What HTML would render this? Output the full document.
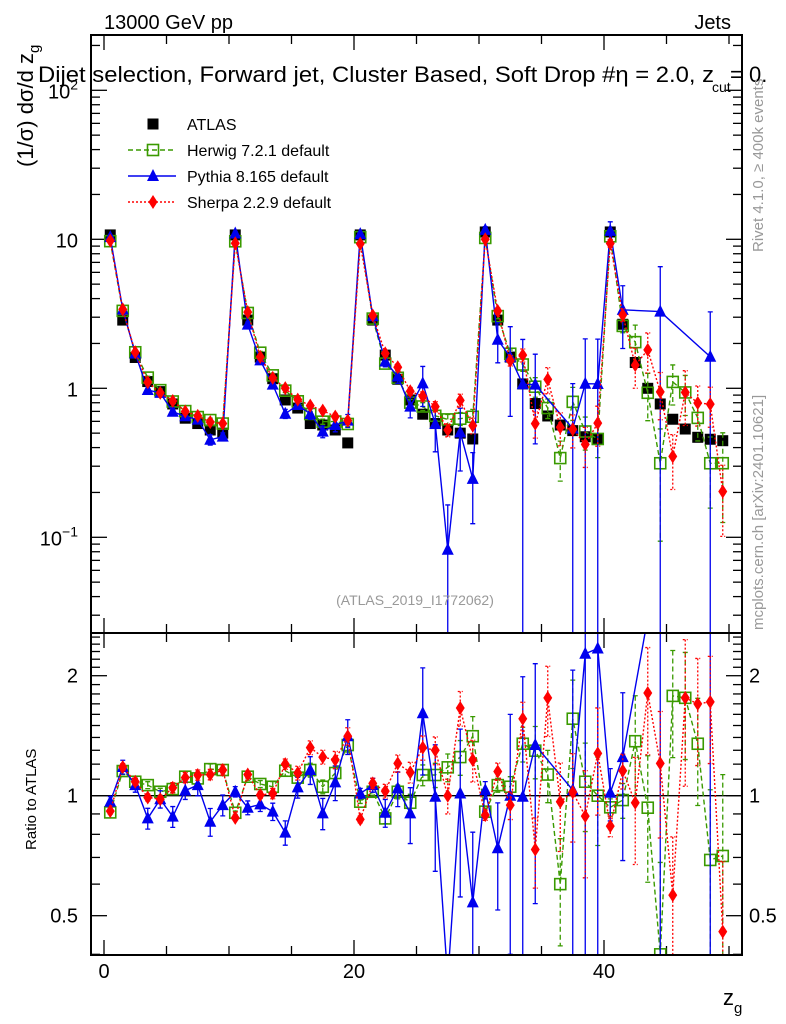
<!DOCTYPE html>
<html><head><meta charset="utf-8"><style>
html,body{margin:0;padding:0;background:#fff;width:786px;height:1024px;overflow:hidden;}
svg{display:block;font-family:"Liberation Sans",sans-serif;overflow:hidden;}
</style></head><body>
<svg id="chart" width="786" height="1024" viewBox="0 0 786 1024" xmlns="http://www.w3.org/2000/svg">
<defs>
<clipPath id="clipTop"><rect x="91" y="35" width="651" height="598"/></clipPath>
<clipPath id="clipBot"><rect x="91" y="633" width="651" height="322"/></clipPath>
</defs>
<g id="axes"></g>
<g id="marks-top" clip-path="url(#clipTop)"></g>
<g id="marks-bot" clip-path="url(#clipBot)"></g>
<rect x="91" y="35" width="651" height="598" fill="none" stroke="#000" stroke-width="2"/>
<rect x="91" y="633" width="651" height="322" fill="none" stroke="#000" stroke-width="2"/>
<text x="104" y="29" font-size="20">13000 GeV pp</text>
<text x="731" y="29" font-size="20" text-anchor="end">Jets</text>
<text x="38" y="82" font-size="22" textLength="676" lengthAdjust="spacingAndGlyphs">Dijet selection, Forward jet, Cluster Based, Soft Drop #η = 2.0, z</text>
<text x="712" y="92" font-size="14">cut</text>
<text x="730" y="82" font-size="22">= 0.</text>
<text transform="translate(33,167) rotate(-90)" font-size="22">(1/σ) dσ/d z<tspan font-size="15" dy="6">g</tspan></text>
<text transform="translate(36,850) rotate(-90)" font-size="15">Ratio to ATLAS</text>
<text x="723" y="1005" font-size="22">z<tspan font-size="15" dy="8">g</tspan></text>
<text x="415" y="605" font-size="14" fill="#999" text-anchor="middle">(ATLAS_2019_I1772062)</text>
<text transform="translate(763,252) rotate(-90)" font-size="15" fill="#999">Rivet 4.1.0, ≥ 400k events</text>
<text transform="translate(763,630) rotate(-90)" font-size="15" fill="#999">mcplots.cern.ch [arXiv:2401.10621]</text>
<g id="legend"></g>
</svg>
<script>
const atlasVals = [10.7,2.87,1.61,1.11,0.95,0.785,0.63,0.58,0.525,0.50,
10.7,2.87,1.62,1.16,0.835,0.737,0.58,0.567,0.525,0.43,
10.7,2.87,1.67,1.15,0.835,0.67,0.58,0.525,0.50,0.457,
11.2,2.87,1.62,1.07,0.79,0.652,0.567,0.52,0.473,0.457,
11.2,2.69,1.49,1.0,0.785,0.62,0.533,0.469,0.455,0.445];
const herwigRatio = [0.908,1.153,1.084,1.063,1.023,1.039,1.116,1.105,1.166,1.16,
0.906,1.116,1.07,1.053,1.155,1.11,1.16,1.053,1.14,1.34,
0.966,1.023,0.877,1.023,0.96,1.127,1.127,1.178,1.25,1.41,
0.912,1.063,1.053,1.35,1.297,1.13,0.60,1.56,1.084,1.0,
0.935,0.975,1.37,0.933,0.40,1.78,1.76,1.35,0.69,0.706];
const sherpaRatio = [0.915,1.18,1.084,0.99,0.98,1.047,1.11,1.127,1.13,1.16,
0.88,1.13,1.004,1.013,1.2,1.14,1.32,1.25,1.23,1.41,
0.872,1.074,1.027,1.205,1.144,1.32,1.30,1.0,1.66,1.23,
0.894,1.15,0.947,1.56,0.733,1.76,0.966,1.02,0.889,1.277,
0.839,1.155,0.96,1.81,1.205,0.563,1.76,1.70,1.72,0.456];
const pythiaRatio = [0.966,1.18,1.063,0.877,0.98,0.886,1.03,1.063,0.86,0.947,
1.023,0.933,0.951,0.912,0.808,1.049,1.16,0.903,1.08,1.41,
1.013,1.063,0.906,1.043,0.903,1.61,0.994,0.157,1.013,0.54,
1.033,0.738,1.0,0.994,1.34,null,null,1.033,2.27,2.34,
1.017,1.25,null,null,4.17,null,null,null,3.58,null];
const herwigErr = [0.01,0.02,0.02,0.02,0.02,0.02,0.03,0.03,0.03,0.03,
0.01,0.02,0.02,0.03,0.03,0.03,0.04,0.04,0.04,0.04,
0.01,0.02,0.03,0.04,0.05,0.06,0.07,0.08,0.1,0.12,
0.02,0.04,0.06,0.1,0.15,0.15,0.3,0.25,0.25,0.25,
0.05,0.1,0.3,0.35,0.7,0.3,0.3,0.3,0.5,0.6];
const sherpaErr = [0.01,0.02,0.02,0.02,0.02,0.03,0.03,0.03,0.03,0.03,
0.01,0.02,0.02,0.03,0.03,0.04,0.04,0.04,0.05,0.05,
0.02,0.03,0.04,0.05,0.06,0.07,0.08,0.1,0.1,0.12,
0.03,0.05,0.08,0.1,0.2,0.2,0.25,0.25,0.3,0.3,
0.06,0.1,0.3,0.3,0.35,0.4,0.4,0.3,0.3,0.5];
const pythiaErr = [0.03,0.04,0.04,0.06,0.05,0.06,0.05,0.06,0.08,0.06,
0.03,0.04,0.04,0.05,0.07,0.06,0.08,0.09,0.1,0.1,
0.03,0.04,0.08,0.1,0.16,0.3,0.35,1.0,0.45,0.5,
0.05,0.3,0.6,1.0,0.6,0,0,1.0,1.0,1.0,
0.15,0.45,0,0,1.0,0,0,0,1.0,0];
const xTickLabels = ["0","20","40"];
const yTopTickLabels = ["10⁻¹","1","10","10²"];
const yRatioTickLabels = ["0.5","1","2"];

const NS = "http://www.w3.org/2000/svg";
function xs(v){ return 104 + 12.5*v; }
function yTop(v){ return 388.3 - 149*Math.log10(v); }
function yRat(r){ return 795.7 - 398.6*Math.log10(r); }
function mk(tag, attrs, parent){ const e=document.createElementNS(NS,tag); for(const k in attrs) e.setAttribute(k,attrs[k]); parent.appendChild(e); return e; }

const axes = document.getElementById('axes');
for(let v=0; v<=50; v+=5){
  const major = v%20===0;
  const L = major?15:9;
  const x = xs(v);
  [[35,1],[633,-1],[633,1],[955,-1]].forEach(([y0,d])=>{
    const t = mk('line',{x1:x,x2:x,y1:y0,y2:y0+d*L,stroke:'#000','stroke-width':1.3},axes);
    
    
  });
}
xTickLabels.forEach((lab,i)=>{
  const t = mk('text',{x:xs(i*20),y:978,'font-size':20,'text-anchor':'middle'},axes);
  t.textContent = lab;
  
  
});
for(let e=-2;e<=2;e++){
  for(let m=1;m<=9;m++){
    const v = m*Math.pow(10,e);
    const y = yTop(v);
    if(y<35||y>633) continue;
    const L = m===1?16:9;
    [[91,1],[742,-1]].forEach(([x0,d])=>{
      const t = mk('line',{x1:x0,x2:x0+d*L,y1:y,y2:y,stroke:'#000','stroke-width':1.3},axes);
      
      
    });
  }
}
yTopTickLabels.forEach((lab,i)=>{
  const v = Math.pow(10,i-1);
  const t = mk('text',{x:78,y:yTop(v)+8,'font-size':20,'text-anchor':'end'},axes);
  if(i===0){ t.innerHTML = '10<tspan font-size="14" dy="-9">−1</tspan>'; }
  else if(i===3){ t.innerHTML = '10<tspan font-size="14" dy="-9">2</tspan>'; }
  else t.textContent = lab;
  
  
});
for(let k=4;k<=25;k++){
  const r = k/10;
  const y = yRat(r);
  if(y<633||y>955) continue;
  const major = (k===5||k===10||k===20);
  const L = major?16:9;
  [[91,1],[742,-1]].forEach(([x0,d])=>{
    const t = mk('line',{x1:x0,x2:x0+d*L,y1:y,y2:y,stroke:'#000','stroke-width':1.3},axes);
    
    
  });
}
yRatioTickLabels.forEach((lab,i)=>{
  const r = [0.5,1,2][i];
  const t = mk('text',{x:78,y:yRat(r)+7,'font-size':20,'text-anchor':'end'},axes);
  t.textContent = lab;
  
  
  const t2 = mk('text',{x:749,y:yRat(r)+7,'font-size':20},axes);
  t2.textContent = lab;
  
  
});
const one = mk('line',{x1:91,x2:742,y1:yRat(1),y2:yRat(1),stroke:'#000','stroke-width':1.3},axes);



function marker(type,x,y,color,g){
  let e;
  if(type==='sq') e = mk('rect',{x:x-5.5,y:y-5.5,width:11,height:11,fill:'#000'},g);
  else if(type==='osq') e = mk('rect',{x:x-5.5,y:y-5.5,width:11,height:11,fill:'none',stroke:color,'stroke-width':1.6},g);
  else if(type==='tri') e = mk('polygon',{points:`${x},${y-7} ${x-6},${y+5} ${x+6},${y+5}`,fill:color},g);
  else e = mk('polygon',{points:`${x},${y-7} ${x-4.5},${y} ${x},${y+7} ${x+4.5},${y}`,fill:color},g);
  return e;
}

const series = [
  {name:'herwig', ratio:herwigRatio, err:herwigErr, color:'#3a9a00', dash:'5,3', type:'osq'},
  {name:'pythia', ratio:pythiaRatio, err:pythiaErr, color:'#0000ee', dash:'', type:'tri'},
  {name:'sherpa', ratio:sherpaRatio, err:sherpaErr, color:'#ff0000', dash:'2,2', type:'dia'}
];
const gTop = document.getElementById('marks-top');
const gBot = document.getElementById('marks-bot');

atlasVals.forEach((v,i)=>{
  const m = marker('sq',xs(i+0.5),yTop(v),'#000',gTop);
  
  
});

series.forEach(s=>{
  [[gTop,false],[gBot,true]].forEach(([g,isRatio])=>{
    const pts=[];
    const yMaxPx = isRatio ? 960 : 640;
    s.ratio.forEach((r,i)=>{
      if(r===null) return;
      const v = isRatio ? r : r*atlasVals[i];
      const fy = isRatio ? yRat : yTop;
      const x = xs(i+0.5), y = fy(v);
      pts.push(x+','+Math.min(y,yMaxPx+20));
      const e = s.err[i];
      if(e>0){
        const hi = Math.max(fy(v*(1+e)),28);
        const lo = v*(1-e)>0 ? Math.min(fy(v*(1-e)),yMaxPx) : yMaxPx;
        const bar = mk('path',{d:`M${x},${hi}V${lo}M${x-2.5},${hi}H${x+2.5}M${x-2.5},${lo}H${x+2.5}`,stroke:s.color,'stroke-width':1.3,fill:'none','stroke-dasharray':s.dash},g);
        
        
      }
    });
    const pl = mk('polyline',{points:pts.join(' '),fill:'none',stroke:s.color,'stroke-width':1.4,'stroke-dasharray':s.dash},g);
    
    
    s.ratio.forEach((r,i)=>{
      if(r===null) return;
      const v = isRatio ? r : r*atlasVals[i];
      const y = isRatio ? yRat(v) : yTop(v);
      if(y>yMaxPx+10) return;
      const m = marker(s.type,xs(i+0.5),y,s.color,g);
      
      
    });
  });
});

const leg = document.getElementById('legend');
const legItems = [
  {label:'ATLAS', type:'sq', color:'#000', dash:null},
  {label:'Herwig 7.2.1 default', type:'osq', color:'#3a9a00', dash:'5,3'},
  {label:'Pythia 8.165 default', type:'tri', color:'#0000ee', dash:''},
  {label:'Sherpa 2.2.9 default', type:'dia', color:'#ff0000', dash:'2,2'}
];
legItems.forEach((it,i)=>{
  const y = 124 + 26*i;
  const g = mk('g',{},leg);
  
  
  if(it.dash!==null){
    mk('line',{x1:128,x2:176,y1:y,y2:y,stroke:it.color,'stroke-width':1.4,'stroke-dasharray':it.dash},g);
  }
  marker(it.type,153,y,it.color,g);
  const t = mk('text',{x:187,y:y+6,'font-size':16},g);
  t.textContent = it.label;
});
</script>
</body></html>
